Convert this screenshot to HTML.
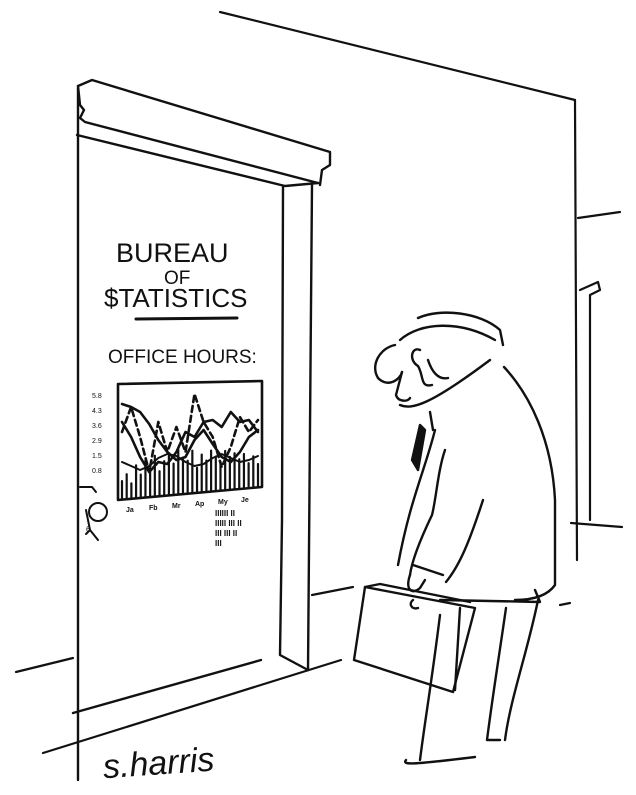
<!DOCTYPE html>
<html><head><meta charset="utf-8"><style>
html,body{margin:0;padding:0;background:#fff;}
svg{display:block;}
text{font-family:"Liberation Sans",sans-serif;fill:#111;}
</style></head><body>
<svg width="636" height="795" viewBox="0 0 636 795" stroke="#111" fill="none" stroke-linecap="round" stroke-linejoin="round">
<g stroke-width="2.2">
  <path d="M220 12 L575 100"/>
  <path d="M575 100 L577 560"/>
  <path d="M578 218 L620 212"/>
  <path d="M580 290 L598 282 L600 290 L590 295 L590 520"/>
  <path d="M571 523 L622 527"/>
  <path d="M16 672 L73 658"/>
  <path d="M312 595 L353 587"/>
  <path d="M43 753 L341 660"/>
  <path d="M560 605 L570 603"/>
</g>
<g stroke-width="2.4">
  <path d="M78 86 L92 80 L330 152 L330 165 L322 170 L320 185"/>
  <path d="M78 86 L80 105 L84 110 L80 118 L85 122 L318 183"/>
  <path d="M77 135 L285 186 L318 183"/>
  <path d="M78 88 L78 780"/>
  <path d="M283 187 L282 520 L280 655 L308 670 L312 185"/>
  <path d="M73 713 L261 660"/>
</g>
<g>
  <text x="116" y="262" font-size="27" stroke="none">BUREAU</text>
  <text x="164" y="284" font-size="19" stroke="none">OF</text>
  <text x="104" y="307" font-size="26" stroke="none">$TATISTICS</text>
  <path d="M136 319 L237 318" stroke-width="3"/>
  <text x="108" y="363" font-size="19" stroke="none">OFFICE HOURS:</text>
</g>
<g id="chart"></g>
<g stroke-width="2">
  <path d="M80 487 L92 487 L96 492"/>
  <circle cx="98" cy="512" r="9"/>
  <path d="M86 510 L90 530 L86 534 M90 530 L98 540"/>
  <text x="86" y="532" font-size="8" stroke="none">6</text>
</g>
<g stroke-width="2.4">
  <path d="M418 318 C440 308 480 312 500 330 L503 345"/>
  <path d="M400 340 C420 322 460 320 495 340"/>
  <path d="M395 345 C380 348 370 365 378 378 C388 388 400 380 402 372"/>
  <path d="M402 372 L396 395 C398 402 408 402 410 398"/>
  <path d="M420 350 C412 346 408 360 418 366 C424 376 420 388 432 385"/>
  <path d="M428 360 C432 372 438 380 448 378"/>
  <path d="M400 405 C412 410 430 405 490 360"/>
  <path d="M430 412 L433 430"/>
  <path d="M420 425 L412 460 L418 470 L425 430 Z" fill="#111"/>
  <path d="M504 367 C530 395 552 440 555 500 L555 585 C548 595 535 600 515 600"/>
  <path d="M435 430 C425 470 410 500 398 565"/>
  <path d="M445 450 C438 470 436 500 432 515 C420 540 412 560 410 575"/>
  <path d="M483 500 C470 540 460 565 446 582"/>
  <path d="M413 565 L443 575"/>
  <path d="M410 575 C405 590 412 595 420 588 L425 580"/>
  <path d="M440 600 L540 602 L535 590"/>
  <path d="M506 608 C500 650 492 700 487 740 L500 740"/>
  <path d="M538 600 C528 650 510 700 505 740"/>
  <path d="M440 615 C432 680 425 720 420 760"/>
  <path d="M406 760 C402 765 410 765 475 757"/>
  <path d="M460 608 L455 690"/>
</g>
<g stroke-width="2.4">
  <path d="M365 587 L475 608 L453 692 L354 660 Z"/>
  <path d="M365 587 L380 584 L470 602"/>
  <path d="M413 600 C408 604 412 610 418 608"/>
</g>
<text x="103" y="775" font-size="34" font-family="Liberation Serif, serif" font-style="italic" stroke="none" transform="rotate(-4 150 765)">s.harris</text>
<script>
var barValues=[22,30,18,40,28,45,35,50,30,42,48,38,55,44,40,52,30,46,38,50,42,35,48,40,44,36,42,30,38,28];
var solidA=[70,55,35,20,30,28,40,60,55,70,72,65,80,70,72,60];
var dashB=[60,85,55,20,70,40,65,40,98,70,55,25,45,75,60,72];
var waveC=[88,85,80,68,52,40,32,35,52,62,48,35,30,40,55,62];
var baseD=[30,26,22,26,34,38,36,30,26,28,34,38,34,30,32,36];
var tickLabels=["5.8","4.3","3.6","2.9","1.5","0.8"];
var xLabels=["Ja","Fb","Mr","Ap","My","Je"];
(function(){
  var ns="http://www.w3.org/2000/svg",g=document.getElementById('chart');
  var L=118,R=262,T=384,B=500;
  function xs(i,n){return L+4+i*(R-L-8)/(n-1);}
  function ys(v){return B-8-v*(B-T-16)/100;}
  var box=document.createElementNS(ns,'path');
  box.setAttribute('d','M'+L+' '+T+' L'+R+' '+(T-3)+' L'+R+' '+(B-13)+' L'+L+' '+B+' Z');
  box.setAttribute('stroke-width','2.6');
  
  
  g.appendChild(box);
  barValues.forEach(function(v,i){
    var x=xs(i,barValues.length),bb=B-1-(x-L)*13/(R-L);
    var l=document.createElementNS(ns,'line');
    l.setAttribute('x1',x);l.setAttribute('x2',x);l.setAttribute('y1',bb);l.setAttribute('y2',bb-v*0.8);
    l.setAttribute('stroke-width','2.2');
    
    
    g.appendChild(l);
  });
  function line(arr,name,dash,w){
    var d=arr.map(function(v,i){return (i?'L':'M')+xs(i,arr.length).toFixed(1)+' '+ys(v).toFixed(1);}).join(' ');
    var p=document.createElementNS(ns,'path');
    p.setAttribute('d',d);p.setAttribute('stroke-width',w);
    if(dash)p.setAttribute('stroke-dasharray',dash);
    
    
    g.appendChild(p);
  }
  line(baseD,'chart-baseline-series','',2);
  line(waveC,'chart-wave-series','',2.6);
  line(solidA,'chart-solid-series','',2.6);
  line(dashB,'chart-dashed-series','6 4',2.6);
  tickLabels.forEach(function(t,i){
    var tx=document.createElementNS(ns,'text');
    tx.setAttribute('x',L-26);tx.setAttribute('y',T+14+i*15);
    tx.setAttribute('font-size','7');tx.setAttribute('stroke','none');
    tx.textContent=t;
    
    
    g.appendChild(tx);
  });
  xLabels.forEach(function(t,i){
    var tx=document.createElementNS(ns,'text');
    tx.setAttribute('x',L+8+i*23);tx.setAttribute('y',B+12-i*2);
    tx.setAttribute('font-size','7');tx.setAttribute('font-weight','bold');tx.setAttribute('stroke','none');
    tx.textContent=t;
    
    
    g.appendChild(tx);
  });
  ["IIIIII II","IIIII III II","III III II","III"].forEach(function(t,i){
    var tx=document.createElementNS(ns,'text');
    tx.setAttribute('x',215);tx.setAttribute('y',516+i*10);
    tx.setAttribute('font-size','8');tx.setAttribute('font-weight','bold');tx.setAttribute('stroke','none');
    tx.textContent=t;
    
    
    g.appendChild(tx);
  });
})();
</script>
</svg>
</body></html>
